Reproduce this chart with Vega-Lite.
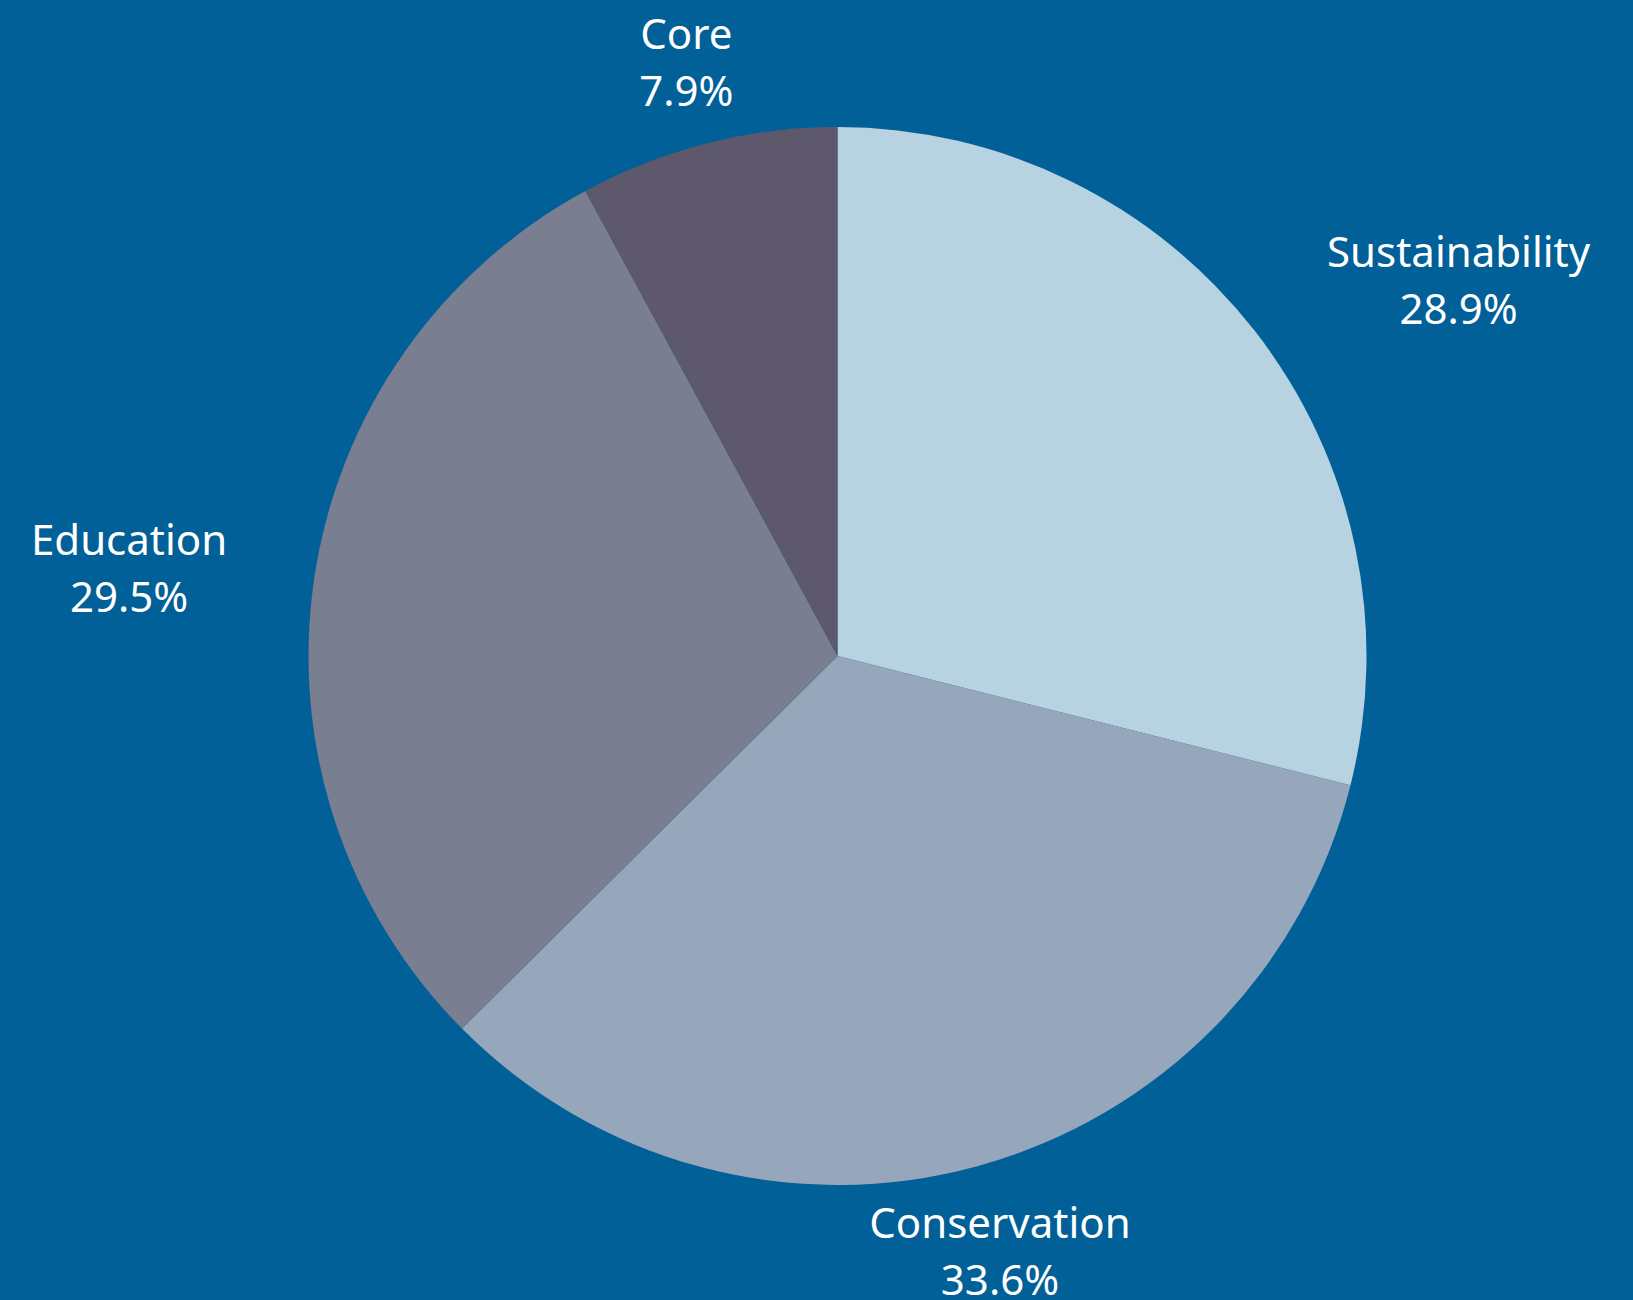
{
  "$schema": "https://vega.github.io/schema/vega-lite/v6.json",
  "width": 1591,
  "height": 1288,
  "autosize": {"type": "none"},
  "padding": {"left": 42, "top": 12, "right": 0, "bottom": 0},
  "background": "#016098",
  "config": {"view": {"stroke": null}},
  "data": {
    "values": [
      {"idx": 1, "category": "Sustainability", "value": 28.9},
      {"idx": 2, "category": "Conservation", "value": 33.6},
      {"idx": 3, "category": "Education", "value": 29.5},
      {"idx": 4, "category": "Core", "value": 7.9}
    ]
  },
  "transform": [
    {"stack": "value", "groupby": [], "sort": [{"field": "idx", "order": "ascending"}], "as": ["v0", "v1"]},
    {"calculate": "(datum.v0 + datum.v1) / 2", "as": "mid"},
    {"calculate": "[datum.category, format(datum.value, '.1f') + '%']", "as": "label"}
  ],
  "layer": [
    {
      "mark": {"type": "arc", "radius": 529, "stroke": null},
      "encoding": {
        "theta": {"field": "v0", "type": "quantitative", "scale": {"domain": [0, 99.9]}},
        "theta2": {"field": "v1"},
        "color": {
          "field": "category",
          "type": "nominal",
          "scale": {
            "domain": ["Sustainability", "Conservation", "Education", "Core"],
            "range": ["#B7D3E1", "#97A7BB", "#797E91", "#5E586C"]
          },
          "legend": null
        }
      }
    },
    {
      "transform": [{"filter": "datum.category == 'Sustainability'"}],
      "mark": {"type": "text", "radius": 615, "align": "center", "baseline": "middle", "dx": 136, "dy": -24, "font": "Noto Sans", "fontSize": 42, "lineHeight": 57, "color": "white"},
      "encoding": {
        "theta": {"field": "mid", "type": "quantitative", "scale": {"domain": [0, 99.9]}},
        "text": {"field": "label"}
      }
    },
    {
      "transform": [{"filter": "datum.category == 'Education'"}],
      "mark": {"type": "text", "radius": 615, "align": "center", "baseline": "middle", "dx": -100, "dy": -24, "font": "Noto Sans", "fontSize": 42, "lineHeight": 57, "color": "white"},
      "encoding": {
        "theta": {"field": "mid", "type": "quantitative", "scale": {"domain": [0, 99.9]}},
        "text": {"field": "label"}
      }
    },
    {
      "transform": [{"filter": "datum.category == 'Conservation' || datum.category == 'Core'"}],
      "mark": {"type": "text", "radius": 615, "align": "center", "baseline": "middle", "dy": -24, "font": "Noto Sans", "fontSize": 42, "lineHeight": 57, "color": "white"},
      "encoding": {
        "theta": {"field": "mid", "type": "quantitative", "scale": {"domain": [0, 99.9]}},
        "text": {"field": "label"}
      }
    }
  ]
}
